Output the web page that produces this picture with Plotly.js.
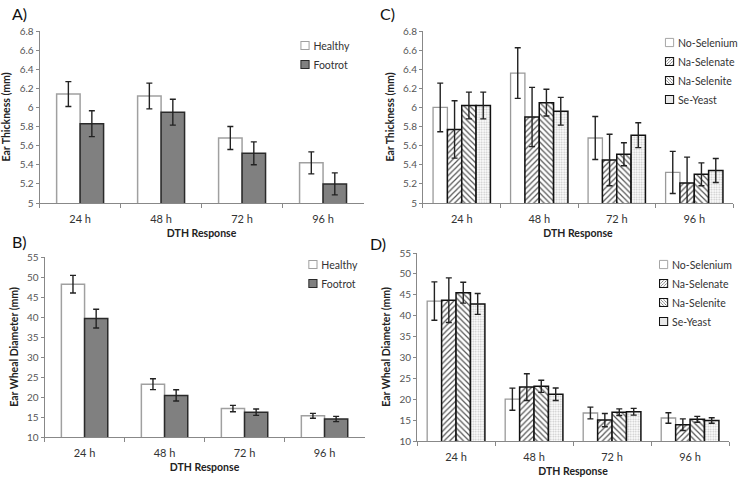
<!DOCTYPE html>
<html>
<head>
<meta charset="utf-8">
<script src="https://cdn.plot.ly/plotly-3.0.1.min.js"></script>
<style>
html,body{margin:0;padding:0;background:#fff;}
#chart{width:743px;height:479px;}
#chart .legendpoints path{scale:0.68; translate:18px 0;}
</style>
</head>
<body>
<div id="chart"></div>
<script>
// ---- data ----
const categories = ["24 h", "48 h", "72 h", "96 h"];

const healthyThick = [6.14, 6.12, 5.68, 5.42];
const healthyThickErr = [0.13, 0.135, 0.12, 0.115];
const footrotThick = [5.83, 5.95, 5.52, 5.20];
const footrotThickErr = [0.135, 0.135, 0.12, 0.115];

const healthyWheal = [48.2, 23.2, 17.1, 15.3];
const healthyWhealErr = [2.2, 1.35, 0.8, 0.6];
const footrotWheal = [39.6, 20.4, 16.2, 14.5];
const footrotWhealErr = [2.35, 1.4, 0.8, 0.65];

const noSeThick = [6.00, 6.36, 5.68, 5.32];
const noSeThickErr = [0.255, 0.265, 0.225, 0.22];
const selenateThick = [5.77, 5.90, 5.45, 5.21];
const selenateThickErr = [0.30, 0.31, 0.27, 0.27];
const seleniteThick = [6.02, 6.05, 5.51, 5.30];
const seleniteThickErr = [0.14, 0.14, 0.12, 0.12];
const yeastThick = [6.02, 5.96, 5.71, 5.34];
const yeastThickErr = [0.14, 0.145, 0.13, 0.125];

const noSeWheal = [43.5, 20.0, 16.7, 15.5];
const noSeWhealErr = [4.6, 2.65, 1.4, 1.25];
const selenateWheal = [43.7, 22.9, 15.0, 13.9];
const selenateWhealErr = [5.35, 3.2, 1.6, 1.4];
const seleniteWheal = [45.5, 23.1, 16.9, 15.2];
const seleniteWhealErr = [2.5, 1.45, 0.8, 0.7];
const yeastWheal = [42.8, 21.2, 17.0, 14.9];
const yeastWhealErr = [2.5, 1.5, 0.8, 0.65];

// ---- styles ----
const FONT = "Lato, 'Open Sans', sans-serif";
const errStyle = {type: "data", visible: true, color: "#222", thickness: 1.4, width: 3};

const styles = {
  healthy: {color: "#ffffff", line: {color: "#a0a0a0", width: 1.5}},
  footrot: {color: "#808080", line: {color: "#2a2a2a", width: 1.5}},
  noSe: {color: "#ffffff", line: {color: "#9a9a9a", width: 1.3}},
  selenate: {color: "#ffffff", line: {color: "#111", width: 1.5},
    pattern: {shape: "/", fgcolor: "#555", bgcolor: "#ffffff", size: 4, solidity: 0.3, fillmode: "replace"}},
  selenite: {color: "#ffffff", line: {color: "#111", width: 1.5},
    pattern: {shape: "\\", fgcolor: "#555", bgcolor: "#ffffff", size: 4, solidity: 0.3, fillmode: "replace"}},
  yeast: {color: "#ffffff", line: {color: "#111", width: 1.5},
    pattern: {shape: ".", fgcolor: "#c4c4c4", bgcolor: "#ffffff", size: 2.5, solidity: 0.4, fillmode: "replace"}}
};

function bar(name, y, err, style, xa, ya, legend, width, offset) {
  return {
    type: "bar", name: name, x: categories, y: y,
    error_y: Object.assign({array: err}, errStyle),
    marker: style, xaxis: xa, yaxis: ya, legend: legend,
    width: width, offset: offset, hoverinfo: "y"
  };
}

const w2 = 0.29, w4 = 0.185;
const data = [
  bar("Healthy", healthyThick, healthyThickErr, styles.healthy, "x", "y", "legend", w2, -w2),
  bar("Footrot", footrotThick, footrotThickErr, styles.footrot, "x", "y", "legend", w2, 0),
  bar("Healthy", healthyWheal, healthyWhealErr, styles.healthy, "x2", "y2", "legend2", w2, -w2),
  bar("Footrot", footrotWheal, footrotWhealErr, styles.footrot, "x2", "y2", "legend2", w2, 0),
  bar("No-Selenium", noSeThick, noSeThickErr, styles.noSe, "x3", "y3", "legend3", w4, -2 * w4),
  bar("Na-Selenate", selenateThick, selenateThickErr, styles.selenate, "x3", "y3", "legend3", w4, -w4),
  bar("Na-Selenite", seleniteThick, seleniteThickErr, styles.selenite, "x3", "y3", "legend3", w4, 0),
  bar("Se-Yeast", yeastThick, yeastThickErr, styles.yeast, "x3", "y3", "legend3", w4, w4),
  bar("No-Selenium", noSeWheal, noSeWhealErr, styles.noSe, "x4", "y4", "legend4", w4, -2 * w4),
  bar("Na-Selenate", selenateWheal, selenateWhealErr, styles.selenate, "x4", "y4", "legend4", w4, -w4),
  bar("Na-Selenite", seleniteWheal, seleniteWhealErr, styles.selenite, "x4", "y4", "legend4", w4, 0),
  bar("Se-Yeast", yeastWheal, yeastWhealErr, styles.yeast, "x4", "y4", "legend4", w4, w4)
];

const W = 743, H = 479;
const px = v => v / W, py = v => 1 - v / H;

function xaxis(d0, d1, anchor) {
  return {
    domain: [px(d0), px(d1)], anchor: anchor, type: "category",
    tickson: "boundaries", ticks: "outside", ticklen: 4, tickcolor: "#888",
    ticklabelstandoff: 6,
    showline: true, linecolor: "#888", linewidth: 1, showgrid: false,
    tickfont: {family: FONT, size: 11, color: "#333"},
    title: {text: "<b>DTH Response</b>", font: {family: FONT, size: 10.5, color: "#222"}, standoff: 5},
    fixedrange: true
  };
}
function yaxis(top, bottom, anchor, range, dtick, title) {
  return {
    domain: [py(bottom), py(top)], anchor: anchor, range: range, dtick: dtick,
    ticks: "outside", ticklen: 3, tickcolor: "#888",
    showline: true, linecolor: "#888", linewidth: 1, showgrid: false, zeroline: false,
    tickfont: {family: FONT, size: 10, color: "#555"},
    title: {text: "<b>" + title + "</b>", font: {family: FONT, size: 10.5, color: "#222"}, standoff: 6},
    fixedrange: true
  };
}
function legend(x, y) {
  return {x: px(x), y: py(y), xanchor: "left", yanchor: "top",
    font: {family: FONT, size: 10.5, color: "#333"}, bgcolor: "rgba(0,0,0,0)",
    itemwidth: 30, tracegroupgap: 0, traceorder: "normal"};
}

const layout = {
  width: W, height: H,
  margin: {l: 0, r: 0, t: 0, b: 0},
  paper_bgcolor: "#ffffff", plot_bgcolor: "#ffffff",
  barmode: "overlay",
  showlegend: true,
  font: {family: FONT},
  xaxis: xaxis(40, 367, "y"),
  yaxis: yaxis(31, 203, "x", [5, 6.8], 0.2, "Ear Thickness (mm)"),
  xaxis2: xaxis(45, 368, "y2"),
  yaxis2: yaxis(257, 437, "x2", [10, 55], 5, "Ear Wheal Diameter (mm)"),
  xaxis3: xaxis(427, 740, "y3"),
  yaxis3: yaxis(31, 203, "x3", [5, 6.8], 0.2, "Ear Thickness (mm)"),
  xaxis4: xaxis(421, 736, "y4"),
  yaxis4: yaxis(253, 441, "x4", [10, 55], 5, "Ear Wheal Diameter (mm)"),
  legend: legend(276, 31),
  legend2: legend(284, 250),
  legend3: legend(644, 28),
  legend4: legend(638, 250),
  annotations: [
    {text: "A)", x: px(10), y: py(13), xref: "paper", yref: "paper", xanchor: "left", yanchor: "middle", showarrow: false, font: {family: FONT, size: 16, color: "#111"}},
    {text: "B)", x: px(10), y: py(242), xref: "paper", yref: "paper", xanchor: "left", yanchor: "middle", showarrow: false, font: {family: FONT, size: 16, color: "#111"}},
    {text: "C)", x: px(382), y: py(13), xref: "paper", yref: "paper", xanchor: "left", yanchor: "middle", showarrow: false, font: {family: FONT, size: 16, color: "#111"}},
    {text: "D)", x: px(371), y: py(243), xref: "paper", yref: "paper", xanchor: "left", yanchor: "middle", showarrow: false, font: {family: FONT, size: 16, color: "#111"}}
  ]
};

Plotly.newPlot("chart", data, layout, {displayModeBar: false, staticPlot: true});
</script>
</body>
</html>
